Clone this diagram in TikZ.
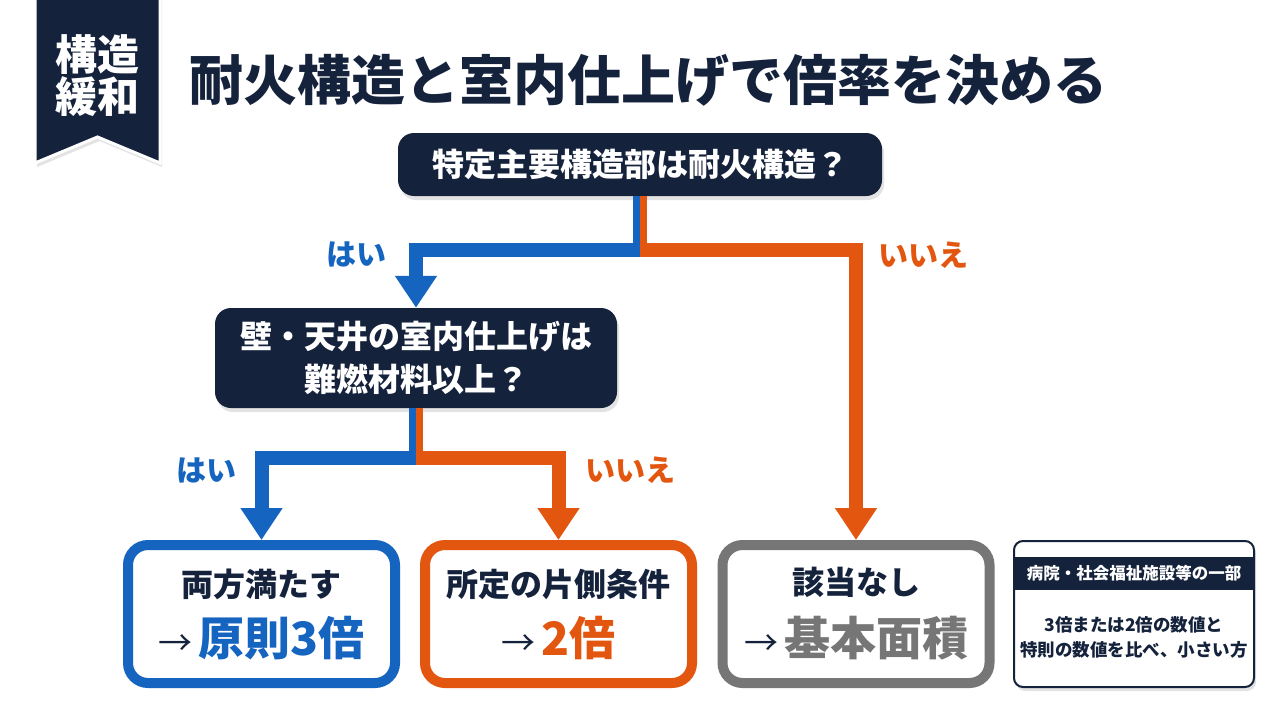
\documentclass[tikz,border=0pt]{standalone}
\usepackage{fontspec}
\setmainfont{Noto Sans CJK JP}
\usetikzlibrary{arrows.meta,shadows}
\definecolor{navy}{HTML}{15223C}
\definecolor{yesblue}{HTML}{1565C0}
\definecolor{noorange}{HTML}{E2560F}
\definecolor{nagray}{HTML}{767676}
\tikzset{softshadow/.style={drop shadow={opacity=0.22, shadow xshift=2pt, shadow yshift=-4pt}}}
\tikzset{question/.style={rounded corners=16pt, fill=navy, text=white, align=center,
      font=\bfseries\fontsize{32}{43}\selectfont, softshadow}}
\tikzset{result/.style={draw=#1, line width=10pt, rounded corners=20pt, fill=white,
      minimum width=267pt, minimum height=138pt, softshadow}}
\tikzset{yes/.style={draw=yesblue, line width=14pt, -{Triangle[width=40pt,length=32pt]}}}
\tikzset{no/.style={draw=noorange, line width=14pt, -{Triangle[width=40pt,length=32pt]}}}
\tikzset{answer/.style={font=\bfseries\fontsize{30}{36}\selectfont, text=#1}}
\tikzset{headline/.style={font=\bfseries\fontsize{32}{38}\selectfont, text=navy}}
\tikzset{verdict/.style={font=\bfseries\fontsize{46}{52}\selectfont, text=#1}}
\newcommand{\arr}{{\fontsize{34}{40}\mdseries\selectfont\textcolor{navy}{→}}\hspace{6pt}}

\begin{document}
\begin{tikzpicture}[x=1pt,y=-1pt]
    \useasboundingbox[fill=white] (0,0) rectangle (1280,720);

    \filldraw[fill=navy, draw=white, line width=3pt, softshadow]
      (35,-5) -- (160,-5) -- (160,163) -- (97.5,137) -- (35,163) -- cycle;
    \node[text=white, align=center, font=\bfseries\fontsize{42}{42}\selectfont] (tag) at (97.5,76) {構造\\緩和};
    \node[anchor=west, text=navy, font=\bfseries\fontsize{54}{60}\selectfont] (title) at (186,80)
      {耐火構造と室内仕上げで倍率を決める};

    \node[question, minimum width=484pt, minimum height=63pt] (q1) at (640,164.5) {特定主要構造部は耐火構造？};
    \node[question, minimum width=402pt, minimum height=100pt] (q2) at (416,358) {壁・天井の室内仕上げは\\難燃材料以上？};

    \node[result=yesblue] (both) at (261.5,614) {};
    \node[result=noorange] (one) at (558.5,614) {};
    \node[result=nagray] (none) at (856,614) {};

    \coordinate (s1) at (640,250);
    \coordinate (s2) at (416,458);
    \draw[yes] (q1.south) -- (s1) -| (q2.north);
    \draw[no] (q1.south) -- (s1) -| (none.north);
    \draw[yes, -, line width=7pt] ([xshift=-3.5pt]q1.south) -- ([xshift=-3.5pt,yshift=-7pt]s1);
    \draw[yes] (q2.south) -- (s2) -| (both.north);
    \draw[no] (q2.south) -- (s2) -| (one.north);
    \draw[yes, -, line width=7pt] ([xshift=-3.5pt]q2.south) -- ([xshift=-3.5pt,yshift=-7pt]s2);

    \node[answer=yesblue] (yes1) at (356,255) {はい};
    \node[answer=noorange] (no1) at (923,255) {いいえ};
    \node[answer=yesblue] (yes2) at (206,470) {はい};
    \node[answer=noorange] (no2) at (630,470) {いいえ};

    \node[headline] (bothtop) at (both.center |- 0,584) {両方満たす};
    \node[verdict=yesblue] (bothres) at (both.center |- 0,638) {\arr 原則3倍};
    \node[headline] (onetop) at (one.center |- 0,584) {所定の片側条件};
    \node[verdict=noorange] (oneres) at (one.center |- 0,638) {\arr 2倍};
    \node[headline] (nonetop) at (none.center |- 0,582) {該当なし};
    \node[verdict=nagray] (noneres) at (none.center |- 0,638) {\arr 基本面積};

    \node[draw=navy, line width=2pt, rounded corners=9pt, fill=white, minimum width=240pt,
      minimum height=146pt, softshadow] (note) at (1134,614) {};
    \node[fill=navy, text=white, minimum width=239pt, minimum height=33pt, inner sep=0pt,
      font=\bfseries\fontsize{16.5}{20}\selectfont] (notehead) at (1134,573.5) {病院・社会福祉施設等の一部};
    \node[text=navy, align=center, font=\bfseries\fontsize{17.5}{25}\selectfont] (notebody) at (1134,637)
      {3倍または2倍の数値と\\特則の数値を比べ、小さい方};
  \end{tikzpicture}
\end{document}
